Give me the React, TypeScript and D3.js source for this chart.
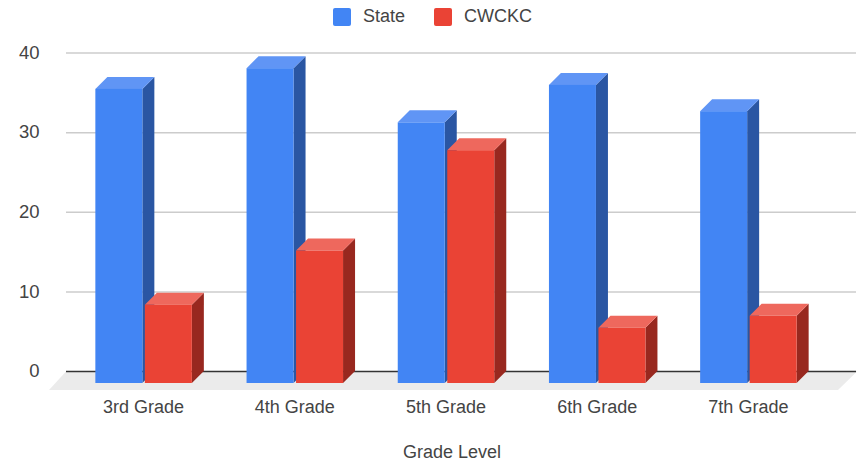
import React from "react";
import * as d3 from "d3";

const categories = ["3rd Grade", "4th Grade", "5th Grade", "6th Grade", "7th Grade"];
const stateValues = [37.0, 39.6, 32.8, 37.5, 34.2];
const cwckcValues = [9.9, 16.7, 29.3, 7.0, 8.5];
const yTicks = [0, 10, 20, 30, 40];
const seriesNames = ["State", "CWCKC"];
const xTitle = "Grade Level";

const W = 864, H = 463;
const DEPTH_X = 12, DEPTH_Y = 12;
const y = d3.scaleLinear().domain([0, 40]).range([371.5, 53]);
const x = d3.scaleBand<string>().domain(categories).range([68, 824]).padding(0);
const FONT = "'Liberation Sans', Arial, sans-serif";
const TEXT = "#444444";

const palette = [
  { front: "#4285f4", side: "#2a56a3", top: "#6095f5" },
  { front: "#ea4335", side: "#98281f", top: "#ee685d" },
];

function Bar({ left, width, value, c }: { left: number; width: number; value: number; c: typeof palette[number] }) {
  const base = y(0) + DEPTH_Y - 0.5;
  const top = y(value) + DEPTH_Y;
  const r = left + width;
  const path = d3.path;
  const side = path();
  side.moveTo(r, top);
  side.lineTo(r + DEPTH_X, top - DEPTH_Y);
  side.lineTo(r + DEPTH_X, base - DEPTH_Y);
  side.lineTo(r, base);
  side.closePath();
  const cap = path();
  cap.moveTo(left, top);
  cap.lineTo(left + DEPTH_X, top - DEPTH_Y);
  cap.lineTo(r + DEPTH_X, top - DEPTH_Y);
  cap.lineTo(r, top);
  cap.closePath();
  return (
    <g>
      <path d={side.toString()} fill={c.side} />
      <path d={cap.toString()} fill={c.top} />
      <rect x={left} y={top} width={width} height={base - top} fill={c.front} />
    </g>
  );
}

export default function App() {
  const barW = 47;
  const gap = 2.5;
  const floor = d3.path();
  floor.moveTo(66, y(0));
  floor.lineTo(857, y(0));
  floor.lineTo(838, 390);
  floor.lineTo(49, 390);
  floor.closePath();
  return (
    <svg width={W} height={H} viewBox={`0 0 ${W} ${H}`} style={{ position: "fixed", left: 0, top: 0, background: "#fff" }} fontFamily={FONT}>
      <path d={floor.toString()} fill="#ebebeb" />
      {yTicks.map((t) => (
        <g key={t}>
          <line x1={66} x2={856} y1={y(t)} y2={y(t)} stroke={t === 0 ? "#333333" : "#cccccc"} strokeWidth={1.5} />
          <text x={39.5} y={y(t)} dy="0.05em" textAnchor="end" fontSize={18.5} fill={TEXT} dominantBaseline="middle">{t}</text>
        </g>
      ))}
      {categories.map((cat, i) => {
        const cx = (x(cat) as number) + x.bandwidth() / 2;
        return (
          <g key={cat}>
            <Bar left={cx - barW - gap / 2} width={barW} value={stateValues[i]} c={palette[0]} />
            <Bar left={cx + gap / 2} width={barW} value={cwckcValues[i]} c={palette[1]} />
            <text x={cx} y={413} textAnchor="middle" fontSize={18} fill={TEXT}>{cat}</text>
          </g>
        );
      })}
      <text x={452} y={458} textAnchor="middle" fontSize={18} fill={TEXT}>{xTitle}</text>
      {seriesNames.map((name, i) => {
        const lx = [333, 434][i];
        return (
          <g key={name}>
            <rect x={lx} y={8} width={18} height={18} rx={2} fill={palette[i].front} />
            <text x={[363, 464][i]} y={22} fontSize={18} fill={TEXT}>{name}</text>
          </g>
        );
      })}
    </svg>
  );
}
